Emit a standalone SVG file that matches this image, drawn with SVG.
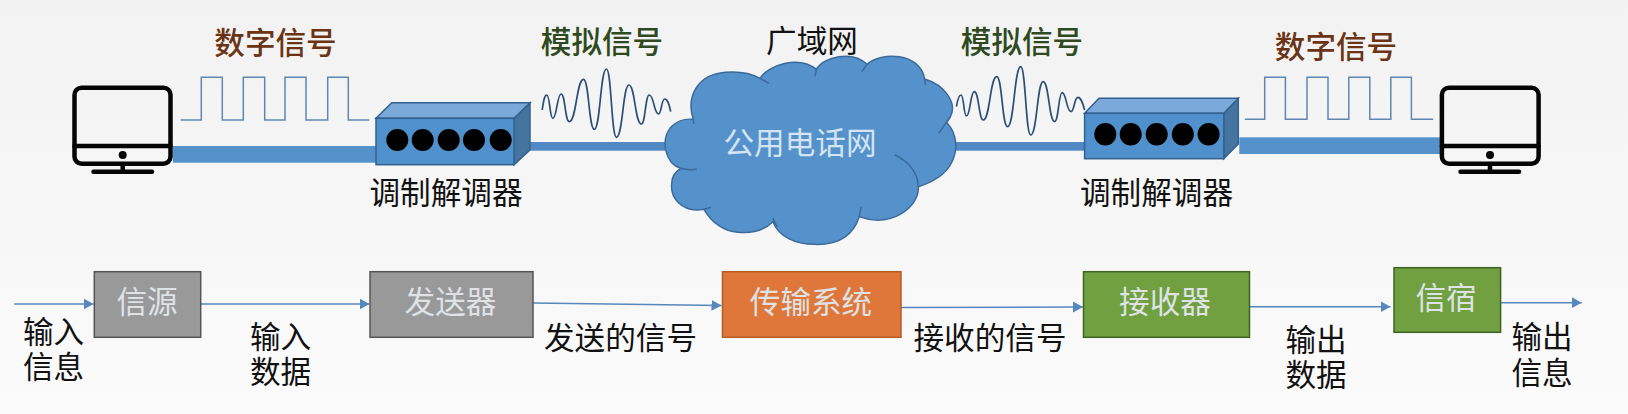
<svg xmlns="http://www.w3.org/2000/svg" width="1628" height="414" viewBox="0 0 1628 414">
<style>
text{font-family:"Noto Sans CJK SC","Noto Sans",sans-serif;font-size:30.6px;text-anchor:middle;fill:#111}
.dig{fill:#6b3414;font-weight:500}
.ana{fill:#2f4a20;font-weight:500}
.inner{fill:#dfe3e6}
.mon{fill:none;stroke:#050505;stroke-width:4.5;stroke-linecap:round;stroke-linejoin:round}
.fat{fill:#5592cc}
.thin{fill:#5089c4}
.sq{fill:none;stroke:#5f87b2;stroke-width:1.5}
.wave{fill:none;stroke:#2c4f78;stroke-width:1.7;vector-effect:non-scaling-stroke}
.front{fill:#5090cc;stroke:#33618f;stroke-width:1.5}
.top{fill:#7aa9da;stroke:#33618f;stroke-width:1.5}
.side{fill:#44749f;stroke:#33618f;stroke-width:1.5}
.arrow{fill:none;stroke:#5688bd;stroke-width:1.5;marker-end:url(#head)}
.gray{fill:#999;stroke:#555;stroke-width:1.5}
.orange{fill:#e0773a;stroke:#b55c25;stroke-width:1.5}
.green{fill:#70a03f;stroke:#3e6322;stroke-width:1.5}
</style>
<defs>
<linearGradient id="bg" x1="0" y1="0" x2="0" y2="1"><stop offset="0" stop-color="#f2f2f2"/><stop offset="1" stop-color="#fbfbfb"/></linearGradient>
<marker id="head" markerUnits="userSpaceOnUse" markerWidth="12" markerHeight="12" refX="10" refY="5.5" orient="auto"><path d="M0,0L10,5.5L0,11Z" fill="#5688bd"/></marker>
</defs>
<rect width="1628" height="414" fill="url(#bg)"/>
<g id="connectors">
<rect class="fat" x="173" y="146" width="204" height="16.7"/>
<rect class="thin" x="521" y="142" width="145" height="8.7"/>
<rect class="thin" x="928" y="142" width="157" height="8.7"/>
<rect class="fat" x="1239.3" y="137.3" width="202" height="16.7"/>
<path class="arrow" d="M14.3,304H93.6"/>
<path class="arrow" d="M200.7,304H369.5"/>
<path class="arrow" d="M533,303L721.5,305.5"/>
<path class="arrow" d="M901,307.5L1083,307"/>
<path class="arrow" d="M1249.5,306.7H1390.5"/>
<path class="arrow" d="M1500.6,302.7H1581.7"/>
</g>
<g id="monitor-left">
<rect class="mon" x="74.5" y="87.7" width="96" height="76" rx="7"/>
<path class="mon" d="M74.5,146H170.5M122.7,164V171.7M93.5,171.7H152"/>
<circle cx="122.7" cy="155" r="4" fill="#050505"/>
</g>
<g id="signal-digital-left">
<path class="sq" d="M180.7,120H201.3V77.3H222.3V120H243.3V77.3H264.7V120H285V77.3H306V120H327.7V77.3H348.3V120H369.3"/>
<text class="dig" x="275.5" y="54">数字信号</text>
</g>
<g id="modem-left">
<path class="side" d="M514,118.3L530,102.7V150L514,164.7Z"/>
<path class="top" d="M376,118.3L391.7,102.7H530L514,118.3Z"/>
<rect class="front" x="376" y="118.3" width="138" height="46.4"/>
<circle cx="397.3" cy="140" r="11"/><circle cx="422.7" cy="140" r="11"/><circle cx="448.7" cy="140" r="11"/><circle cx="474" cy="140" r="11"/><circle cx="500.7" cy="140" r="11"/>
<text x="446" y="204">调制解调器</text>
</g>
<g id="signal-analog-left">
<g transform="translate(520 0) scale(.35714 .33333)"><path class="wave" d="M62,330C66,305 68,285 75,285C84,285 83,355 92,355C103,355 104,282 115,282C127,282 126,365 138,365C158,365 158,238 178,238C193,238 193,388 208,388C225,388 225,207 242,207C256,207 256,412 270,412C288,412 288,255 305,255C322,255 322,372 340,372C351,372 351,285 362,285C375,285 375,342 388,342C396,342 396,297 405,297C414,297 418,315 422,335"/></g>
<text class="ana" x="602" y="53">模拟信号</text>
</g>
<g id="cloud">
<g transform="translate(520 0) scale(.35714 .33333)">
<path d="M485,358C465,290 495,225 575,217C620,213 650,222 672,235C695,195 780,165 830,208C850,170 930,150 972,193C1010,155 1120,155 1133,237C1190,255 1225,310 1205,350L1195,368C1235,410 1240,520 1115,560C1120,620 1040,685 950,650C930,715 880,735 825,733C770,733 725,710 708,665C680,695 640,700 610,697C570,695 535,665 515,628C450,640 420,590 425,550C425,530 435,515 450,505C405,490 395,420 420,385C435,365 460,355 485,358Z" fill="#5592cc" stroke="#3b6a9a" stroke-width="1.5" vector-effect="non-scaling-stroke"/>
<path d="M672,235L697,250M830,208L826,228M972,193L957,215M1133,237L1135,255M1205,350L1172,400M1050,465C1090,485 1115,520 1115,560M950,650L955,620M708,655L720,680M535,622L515,628M450,505C465,510 480,510 495,508M485,358L487,372" fill="none" stroke="#3b6a9a" stroke-width="1.5" vector-effect="non-scaling-stroke"/>
</g>
<text x="812" y="52">广域网</text>
<text class="inner" x="800" y="154" style="fill:#d5e4f2">公用电话网</text>
</g>
<g id="signal-analog-right">
<g transform="translate(520 0) scale(.35714 .33333)"><path class="wave" d="M1222,320C1225,300 1228,285 1235,285C1243,285 1242,348 1250,348C1261,348 1261,275 1272,275C1285,275 1285,360 1297,360C1316,360 1316,230 1335,230C1350,230 1350,380 1365,380C1384,380 1384,200 1402,200C1416,200 1416,405 1430,405C1448,405 1448,245 1465,245C1481,245 1481,365 1497,365C1508,365 1508,278 1518,278C1530,278 1530,335 1543,335C1552,335 1552,292 1562,292C1571,292 1576,310 1581,330"/></g>
<text class="ana" x="1022" y="53">模拟信号</text>
</g>
<g id="modem-right">
<path class="side" d="M1223.8,113.3L1238.3,98.3V144L1223.8,158.7Z"/>
<path class="top" d="M1084.6,113.3L1099,98.3H1238.3L1223.8,113.3Z"/>
<rect class="front" x="1084.6" y="113.3" width="139.2" height="45.4"/>
<ellipse cx="1105.3" cy="134.3" rx="11" ry="11.3"/><ellipse cx="1130.7" cy="134.3" rx="11" ry="11.3"/><ellipse cx="1156.7" cy="134.3" rx="11" ry="11.3"/><ellipse cx="1182.8" cy="134.3" rx="11" ry="11.3"/><ellipse cx="1208.6" cy="134.3" rx="11" ry="11.3"/>
<text x="1156.5" y="204">调制解调器</text>
</g>
<g id="signal-digital-right">
<path class="sq" d="M1244.8,119.3H1264.7V77.3H1285.4V119.3H1307V77.3H1328V119.3H1348.8V77.3H1369.8V119.3H1390.8V77.3H1411.4V119.3H1433.2"/>
<text class="dig" x="1336" y="58">数字信号</text>
</g>
<g id="monitor-right">
<rect class="mon" x="1441.9" y="87.7" width="96.7" height="76" rx="7"/>
<path class="mon" d="M1441.9,146H1538.6M1490,164V171.7M1460.5,171.7H1519"/>
<circle cx="1490" cy="155" r="4" fill="#050505"/>
</g>
<g id="source"><rect class="gray" x="94.3" y="271.7" width="106.4" height="65.6"/><text class="inner" x="147" y="313">信源</text></g>
<g id="transmitter"><rect class="gray" x="370" y="271.7" width="163" height="65.6"/><text class="inner" x="450.5" y="313">发送器</text></g>
<g id="transmission"><rect class="orange" x="722.5" y="271.7" width="178.5" height="65.6"/><text class="inner" x="811" y="313">传输系统</text></g>
<g id="receiver"><rect class="green" x="1083.5" y="271.7" width="166" height="65.6"/><text class="inner" x="1165" y="313">接收器</text></g>
<g id="sink"><rect class="green" x="1394" y="267.7" width="106.6" height="64.6"/><text class="inner" x="1446" y="309">信宿</text></g>
<g id="labels">
<text x="53.5" y="343"><tspan x="53.5">输入</tspan><tspan x="53.5" dy="35">信息</tspan></text>
<text x="280.5" y="348"><tspan x="280.5">输入</tspan><tspan x="280.5" dy="35">数据</tspan></text>
<text x="620.5" y="349">发送的信号</text>
<text x="990" y="349">接收的信号</text>
<text x="1316" y="351"><tspan x="1316">输出</tspan><tspan x="1316" dy="35">数据</tspan></text>
<text x="1542" y="348"><tspan x="1542">输出</tspan><tspan x="1542" dy="36">信息</tspan></text>
</g>
</svg>
